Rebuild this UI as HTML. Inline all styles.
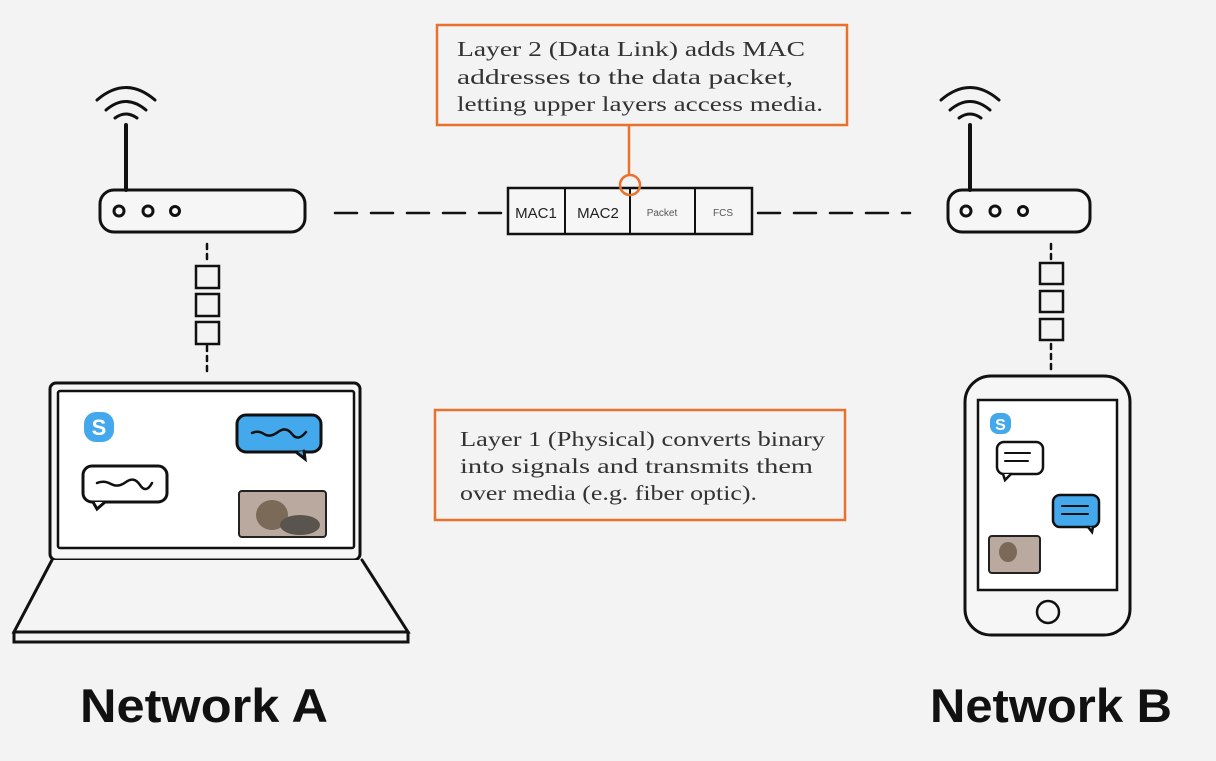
<!DOCTYPE html>
<html><head><meta charset="utf-8"><style>
html,body{margin:0;padding:0;background:#f3f3f3}
svg{display:block}
.s{font-family:"Liberation Serif",serif;font-size:21px;fill:#333}
.n{font-family:"Liberation Sans",sans-serif;font-weight:bold;font-size:47px;fill:#111}
</style></head><body>
<svg width="1216" height="761" viewBox="0 0 1216 761" xmlns="http://www.w3.org/2000/svg">
<rect width="1216" height="761" fill="#f3f3f3"/>
<g fill="none" stroke="#111" stroke-width="3" stroke-linecap="round">
<rect x="100" y="190" width="205" height="42" rx="14" fill="#f6f6f6"/>
<circle cx="119" cy="211" r="5"/><circle cx="148" cy="211" r="5"/><circle cx="175" cy="211" r="4.5"/>
<line x1="126" y1="125" x2="126" y2="190" stroke-width="4"/>
<path d="M97 100 Q126 75 155 100"/><path d="M106 110 Q126 93 146 110"/><path d="M115 118 Q126 110 137 118"/>
<rect x="948" y="190" width="142" height="42" rx="14" fill="#f6f6f6"/>
<circle cx="966" cy="211" r="5"/><circle cx="995" cy="211" r="5"/><circle cx="1023" cy="211" r="4.5"/>
<line x1="970" y1="125" x2="970" y2="190" stroke-width="4"/>
<path d="M941 100 Q970 75 999 100"/><path d="M950 110 Q970 93 990 110"/><path d="M959 118 Q970 110 981 118"/>
<line x1="335" y1="213" x2="508" y2="213" stroke-width="2.5" stroke-dasharray="22,14"/>
<line x1="752" y1="213" x2="910" y2="213" stroke-width="2.5" stroke-dasharray="22,14" stroke-dashoffset="-6"/>
<line x1="207" y1="244" x2="207" y2="262" stroke-width="2.5" stroke-dasharray="5,5"/>
<line x1="207" y1="346" x2="207" y2="376" stroke-width="2.5" stroke-dasharray="5,5"/>
<rect x="196" y="266" width="23" height="22" stroke-width="2.5"/>
<rect x="196" y="294" width="23" height="22" stroke-width="2.5"/>
<rect x="196" y="322" width="23" height="22" stroke-width="2.5"/>
<line x1="1051" y1="244" x2="1051" y2="260" stroke-width="2.5" stroke-dasharray="5,5"/>
<line x1="1051" y1="344" x2="1051" y2="372" stroke-width="2.5" stroke-dasharray="5,5"/>
<rect x="1040" y="263" width="23" height="21" stroke-width="2.5"/>
<rect x="1040" y="291" width="23" height="21" stroke-width="2.5"/>
<rect x="1040" y="319" width="23" height="21" stroke-width="2.5"/>
<rect x="508" y="188" width="244" height="46" stroke-width="2.5" fill="#f6f6f6"/>
<line x1="565" y1="188" x2="565" y2="234" stroke-width="2"/>
<line x1="630" y1="188" x2="630" y2="234" stroke-width="2"/>
<line x1="695" y1="188" x2="695" y2="234" stroke-width="2"/>
<rect x="50" y="383" width="310" height="177" rx="6" fill="#f6f6f6"/>
<rect x="58" y="391" width="296" height="157" rx="2" fill="#fff" stroke-width="2.5"/>
<path d="M52 560 L14 632 L408 632 L362 560" fill="#f4f4f4"/>
<path d="M14 632 L14 642 L408 642 L408 632"/>
<rect x="237" y="415" width="84" height="37" rx="9" fill="#44a9ec"/>
<path d="M296 452 L305 459 L304 451" fill="#44a9ec"/>
<path d="M252 433 Q258 430 264 434 T278 432 T292 434 T306 432" stroke-width="2.5"/>
<rect x="83" y="466" width="84" height="36" rx="9" fill="#fff"/>
<path d="M93 502 L97 509 L105 502" fill="#fff"/>
<path d="M97 483 Q104 480 111 484 T126 482 T140 485 T152 483" stroke-width="2.5"/>
<rect x="965" y="376" width="165" height="259" rx="26" fill="#f6f6f6"/>
<rect x="978" y="400" width="139" height="190" fill="#fff" stroke-width="2.5"/>
<circle cx="1048" cy="612" r="11" stroke-width="2.5"/>
<rect x="997" y="442" width="46" height="32" rx="7" fill="#fff" stroke-width="2.5"/>
<path d="M1003 474 L1005 480 L1011 474" fill="#fff" stroke-width="2.5"/>
<path d="M1005 453 L1030 453 M1005 461 L1028 461" stroke-width="2"/>
<rect x="1053" y="495" width="46" height="32" rx="7" fill="#44a9ec" stroke-width="2.5"/>
<path d="M1088 527 L1092 532 L1093 527" fill="#44a9ec" stroke-width="2.5"/>
<path d="M1062 506 L1088 506 M1062 514 L1088 514" stroke-width="2"/>
</g>
<rect x="239" y="491" width="87" height="46" rx="3" fill="#b9a99e" stroke="#222" stroke-width="2"/>
<ellipse cx="272" cy="515" rx="16" ry="15" fill="#7b6a58"/>
<ellipse cx="300" cy="525" rx="20" ry="10" fill="#59554e"/>
<rect x="989" y="536" width="51" height="37" rx="3" fill="#b9a99e" stroke="#222" stroke-width="2"/>
<ellipse cx="1008" cy="552" rx="9" ry="10" fill="#7b6a58"/>
<rect x="84" y="412" width="30" height="30" rx="12" fill="#44a9ec"/>
<text x="99" y="435" text-anchor="middle" font-family="Liberation Sans,sans-serif" font-weight="bold" font-size="22" fill="#fff">S</text>
<rect x="990" y="413" width="21" height="21" rx="8" fill="#44a9ec"/>
<text x="1000.5" y="430" text-anchor="middle" font-family="Liberation Sans,sans-serif" font-weight="bold" font-size="16" fill="#fff">S</text>
<g font-family="Liberation Sans,sans-serif" fill="#222">
<text x="536" y="218" text-anchor="middle" font-size="15">MAC1</text>
<text x="598" y="218" text-anchor="middle" font-size="15">MAC2</text>
<text x="662" y="216" text-anchor="middle" font-size="10" fill="#555">Packet</text>
<text x="723" y="216" text-anchor="middle" font-size="10" fill="#555">FCS</text>
</g>
<g fill="none" stroke="#e8722c" stroke-width="2.5">
<rect x="437" y="25" width="410" height="100" fill="#f3f3f3"/>
<line x1="629" y1="125" x2="629" y2="175"/>
<circle cx="630" cy="185" r="10"/>
<rect x="435" y="410" width="410" height="110" fill="#f3f3f3"/>
</g>
<text class="s" x="457" y="56" textLength="348" lengthAdjust="spacingAndGlyphs">Layer 2 (Data Link) adds MAC</text>
<text class="s" x="457" y="84" textLength="336" lengthAdjust="spacingAndGlyphs">addresses to the data packet,</text>
<text class="s" x="457" y="111" textLength="366" lengthAdjust="spacingAndGlyphs">letting upper layers access media.</text>
<text class="s" x="460" y="446" textLength="365" lengthAdjust="spacingAndGlyphs">Layer 1 (Physical) converts binary</text>
<text class="s" x="460" y="473" textLength="353" lengthAdjust="spacingAndGlyphs">into signals and transmits them</text>
<text class="s" x="460" y="500" textLength="297" lengthAdjust="spacingAndGlyphs">over media (e.g. fiber optic).</text>
<text class="n" x="80" y="722" textLength="248" lengthAdjust="spacingAndGlyphs">Network A</text>
<text class="n" x="930" y="722" textLength="242" lengthAdjust="spacingAndGlyphs">Network B</text>
</svg>
</body></html>
